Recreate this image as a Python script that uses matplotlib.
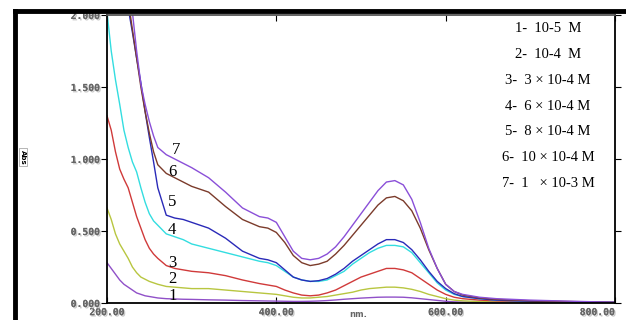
import matplotlib.pyplot as plt
import matplotlib.patheffects as pe

# wavelength grid (nm) shared by all spectra
wl = [200, 205, 210, 215, 220, 225, 230, 235, 240, 245, 250, 255, 260, 270, 280, 290, 300,
      320, 340, 360, 380, 390, 400, 410, 420, 430, 440, 450, 460, 470, 480, 490, 500,
      510, 520, 530, 540, 550, 560, 570, 580, 590, 600, 610, 620, 640, 660, 700, 750, 800]

abs1 = [0.28, 0.24, 0.20, 0.16, 0.13, 0.11, 0.09, 0.07, 0.06, 0.05, 0.045, 0.04, 0.035, 0.03, 0.028, 0.026, 0.025,
        0.022, 0.02, 0.017, 0.015, 0.014, 0.013, 0.012, 0.011, 0.011, 0.012, 0.014, 0.017, 0.021, 0.026, 0.03, 0.034,
        0.037, 0.04, 0.041, 0.041, 0.04, 0.036, 0.03, 0.024, 0.018, 0.012, 0.008, 0.006, 0.004, 0.003, 0.002, 0.001, 0.001]
abs2 = [0.66, 0.58, 0.48, 0.41, 0.36, 0.31, 0.25, 0.21, 0.18, 0.165, 0.15, 0.14, 0.13, 0.115, 0.11, 0.105, 0.10,
        0.10, 0.09, 0.08, 0.07, 0.065, 0.06, 0.05, 0.04, 0.035, 0.035, 0.04, 0.045, 0.055, 0.065, 0.075, 0.09,
        0.10, 0.105, 0.11, 0.11, 0.105, 0.095, 0.08, 0.06, 0.045, 0.03, 0.02, 0.015, 0.01, 0.008, 0.005, 0.003, 0.002]
abs3 = [1.30, 1.20, 1.05, 0.93, 0.86, 0.80, 0.70, 0.60, 0.52, 0.44, 0.38, 0.34, 0.31, 0.26, 0.24, 0.23, 0.22,
        0.21, 0.19, 0.16, 0.135, 0.125, 0.115, 0.09, 0.07, 0.055, 0.05, 0.055, 0.07, 0.09, 0.12, 0.15, 0.18,
        0.20, 0.22, 0.24, 0.24, 0.23, 0.21, 0.17, 0.13, 0.09, 0.06, 0.04, 0.03, 0.02, 0.015, 0.01, 0.005, 0.003]
abs4 = [2.02, 1.75, 1.55, 1.38, 1.20, 1.08, 0.98, 0.91, 0.80, 0.70, 0.62, 0.57, 0.54, 0.48, 0.46, 0.44, 0.41,
        0.38, 0.35, 0.32, 0.29, 0.28, 0.26, 0.22, 0.18, 0.16, 0.15, 0.15, 0.16, 0.19, 0.22, 0.27, 0.31,
        0.35, 0.38, 0.40, 0.40, 0.39, 0.35, 0.28, 0.21, 0.14, 0.09, 0.06, 0.045, 0.03, 0.02, 0.012, 0.008, 0.004]
abs5 = [3.2, 2.95, 2.7, 2.45, 2.25, 2.05, 1.88, 1.7, 1.53, 1.33, 1.15, 0.98, 0.80, 0.61, 0.59, 0.58, 0.56,
        0.52, 0.45, 0.36, 0.31, 0.30, 0.28, 0.23, 0.18, 0.16, 0.15, 0.155, 0.17, 0.20, 0.24, 0.29, 0.33,
        0.37, 0.41, 0.44, 0.44, 0.42, 0.37, 0.30, 0.22, 0.15, 0.10, 0.065, 0.045, 0.03, 0.02, 0.012, 0.008, 0.004]
abs6 = [3.3, 3.0, 2.75, 2.5, 2.3, 2.1, 1.9, 1.7, 1.5, 1.33, 1.18, 1.05, 0.96, 0.90, 0.87, 0.84, 0.81,
        0.77, 0.67, 0.58, 0.53, 0.52, 0.49, 0.42, 0.33, 0.28, 0.26, 0.27, 0.29, 0.34, 0.40, 0.47, 0.54,
        0.61, 0.68, 0.73, 0.74, 0.71, 0.64, 0.52, 0.37, 0.24, 0.13, 0.08, 0.055, 0.035, 0.025, 0.015, 0.01, 0.005]
abs7 = [3.5, 3.2, 2.9, 2.65, 2.4, 2.2, 2.02, 1.75, 1.52, 1.38, 1.26, 1.16, 1.08, 1.03, 1.0, 0.97, 0.94,
        0.87, 0.77, 0.66, 0.60, 0.59, 0.56, 0.46, 0.36, 0.31, 0.30, 0.31, 0.34, 0.39, 0.46, 0.54, 0.62,
        0.70, 0.78, 0.84, 0.85, 0.82, 0.72, 0.56, 0.38, 0.24, 0.13, 0.08, 0.06, 0.04, 0.03, 0.02, 0.012, 0.005]

series = [abs1, abs2, abs3, abs4, abs5, abs6, abs7]
colors = ['#9050c8', '#b8c640', '#d03a3a', '#33dde0', '#2a2ab8', '#7b3b2b', '#8a4fd8']
curve_labels = ['1', '2', '3', '4', '5', '6', '7']
label_pos = [(277, 0.05), (277, 0.17), (277, 0.28), (277, 0.51), (277, 0.70), (277, 0.91), (282, 1.06)]

legend_lines = ['1-  10-5  M', '2-  10-4  M', '3-  3 \u00d7 10-4 M', '4-  6 \u00d7 10-4 M',
                '5-  8 \u00d7 10-4 M', '6-  10 \u00d7 10-4 M', '7-  1   \u00d7 10-3 M']

xticks = [200, 400, 600, 800]
yticks = [0.0, 0.5, 1.0, 1.5, 2.0]

fig = plt.figure(figsize=(6.26, 3.2), dpi=100)
ax = fig.add_axes([107/626, 17/320, 508/626, 288/320])

for y, c in zip(series, colors):
    ax.plot(wl, y, color=c, lw=1.0)

for t, (x, y) in zip(curve_labels, label_pos):
    ax.text(x, y, t, fontsize=12, family='Liberation Serif', ha='center', va='center')

for i, t in enumerate(legend_lines):
    fig.text(548/626, 1 - (29 + i*25.7)/320, t, fontsize=10.5, family='Liberation Serif',
             ha='center', va='center')

ax.set_xlim(200, 800)
ax.set_ylim(0, 2.0)
ax.set_xticks(xticks)
ax.set_yticks(yticks)
shadow = [pe.withSimplePatchShadow(offset=(1, -1), shadow_rgbFace='#bbbbbb', alpha=0.8), pe.Normal()]
ax.set_xticklabels(['%.2f' % v for v in xticks], family='DejaVu Sans Mono', fontsize=7,
                   fontweight='bold', color='#666666')
ax.set_yticklabels(['%.3f' % v for v in yticks], family='DejaVu Sans Mono', fontsize=7,
                   fontweight='bold', color='#666666')
for lab in ax.get_xticklabels() + ax.get_yticklabels():
    lab.set_path_effects(shadow)
ax.get_xticklabels()[-1].set_ha('right')
ax.tick_params(axis='x', direction='in', length=4, pad=3, top=True)
ax.tick_params(axis='y', direction='out', length=4, pad=1, right=True)
for s in ax.spines.values():
    s.set_linewidth(1.3)
ax.spines['top'].set_color('#555555')

fig.text(358/626, 1/320, 'nm.', fontsize=6, fontweight='bold', color='#666666', ha='center', va='bottom')
fig.text(23/626, 1 - 157/320, 'Abs', fontsize=5, rotation=270, ha='center', va='center',
         fontweight='bold', bbox=dict(boxstyle='square,pad=0.2', fc='white', ec='#999999', lw=0.5))

# thick outer frame (top and left)
fig.add_artist(plt.Line2D([15/626, 15/626], [0, 1 - 11/320], color='black', lw=3.5))
fig.add_artist(plt.Line2D([15/626, 1], [1 - 11/320, 1 - 11/320], color='black', lw=3.5))

fig.savefig('out.png', dpi=100)
